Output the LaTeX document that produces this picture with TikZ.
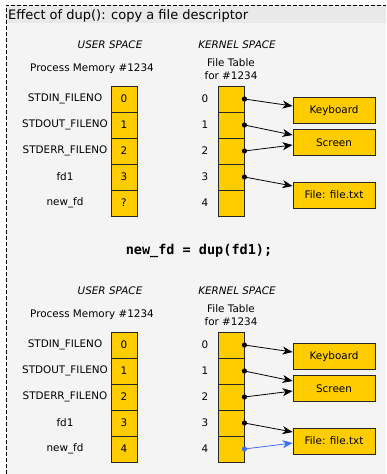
\documentclass[tikz,border=0pt]{standalone}
\usepackage{fontspec}
\setmainfont{DejaVu Sans}
\setmonofont{DejaVu Sans Mono}
\usetikzlibrary{positioning, arrows.meta}
\definecolor{gold}{HTML}{FFCC00}
\definecolor{panel}{HTML}{F4F4F4}
\definecolor{titlebar}{HTML}{E9E9E9}
\definecolor{dupblue}{HTML}{3D6EFF}

\begin{document}
\begin{tikzpicture}[x=1pt, y=-1pt, node distance=26pt]

% Define styles
\tikzstyle{txt} = [font=\fontsize{10.4}{12.5}\selectfont, inner sep=0pt]
\tikzstyle{space} = [txt, font=\fontsize{10.4}{12.5}\selectfont\itshape]
\tikzstyle{fdbox} = [txt, draw=black!85, line width=0.9pt, fill=gold, minimum width=26pt, minimum height=26pt]
\tikzstyle{target} = [txt, draw=black!85, line width=0.9pt, fill=gold, minimum width=82pt, minimum height=26pt]
\tikzstyle{ptr} = [-{Stealth[length=10pt, width=8pt, inset=3pt]}, line width=0.8pt]

% Frame
\useasboundingbox (0,0) rectangle (386,474);
\fill[panel] (6,5) rectangle (386,474);
\fill[titlebar] (6,5) rectangle (386,23);
\draw[dash pattern=on 4pt off 2pt, line width=0.8pt] (6,474) -- (6,5) -- (386,5);
\node[anchor=base west, inner sep=0pt, font=\fontsize{13}{15}\selectfont] (title) at (8,19) {Effect of dup(): copy a file descriptor};

% Before dup
\node[fdbox] (u0) at (124,99) {0};
\node[fdbox, below of=u0] (u1) {1};
\node[fdbox, below of=u1] (u2) {2};
\node[fdbox, below of=u2] (u3) {3};
\node[fdbox, below of=u3] (u4) {?};
\node[txt, left of=u0, node distance=59pt] (n0) {STDIN\_FILENO};
\node[txt, left of=u1, node distance=59pt] (n1) {STDOUT\_FILENO};
\node[txt, left of=u2, node distance=59pt] (n2) {STDERR\_FILENO};
\node[txt, left of=u3, node distance=59pt] (n3) {fd1};
\node[txt, left of=u4, node distance=59pt] (n4) {new\_fd};
\node[space, above of=u0, node distance=54pt, xshift=-14pt] (user) {USER SPACE};
\node[txt, above of=u0, node distance=30pt, xshift=-32pt] (mem) {Process Memory \#1234};

\node[fdbox, right of=u0, node distance=107pt] (k0) {};
\node[fdbox, below of=k0] (k1) {};
\node[fdbox, below of=k1] (k2) {};
\node[fdbox, below of=k2] (k3) {};
\node[fdbox, below of=k3] (k4) {};
\node[txt, left of=k0] (i0) {0};
\node[txt, left of=k1] (i1) {1};
\node[txt, left of=k2] (i2) {2};
\node[txt, left of=k3] (i3) {3};
\node[txt, left of=k4] (i4) {4};
\node[space, above of=k0, node distance=54pt, xshift=6pt] (kern) {KERNEL SPACE};
\node[txt, align=center, above of=k0, node distance=30pt] (ftab) {File Table\\for \#1234};

\node[target, right of=k0, node distance=103pt, yshift=-11.5pt] (kbd) {Keyboard};
\node[target, below of=kbd, node distance=32pt] (scr) {Screen};
\node[target, below of=scr, node distance=52.5pt] (file) {File: file.txt};

\draw[ptr] (k0.east) -- ([yshift=4.5pt]kbd.west);
\draw[ptr] (k1.east) -- ([yshift=7.5pt]scr.west);
\draw[ptr] (k2.east) -- ([yshift=-2.5pt]scr.west);
\draw[ptr] (k3.east) -- ([yshift=9pt]file.west);
\fill (k0.east) circle (2.6pt);
\fill (k1.east) circle (2.6pt);
\fill (k2.east) circle (2.6pt);
\fill (k3.east) circle (2.6pt);

% The call
\node[font=\fontsize{13.5}{16}\selectfont\ttfamily\bfseries, inner sep=0pt] (call) at (199,251) {new\_fd = dup(fd1);};

% After dup
\node[fdbox, below of=u4, node distance=142pt] (v0) {0};
\node[fdbox, below of=v0] (v1) {1};
\node[fdbox, below of=v1] (v2) {2};
\node[fdbox, below of=v2] (v3) {3};
\node[fdbox, below of=v3] (v4) {4};
\node[txt, left of=v0, node distance=59pt] (m0) {STDIN\_FILENO};
\node[txt, left of=v1, node distance=59pt] (m1) {STDOUT\_FILENO};
\node[txt, left of=v2, node distance=59pt] (m2) {STDERR\_FILENO};
\node[txt, left of=v3, node distance=59pt] (m3) {fd1};
\node[txt, left of=v4, node distance=59pt] (m4) {new\_fd};
\node[space, above of=v0, node distance=54pt, xshift=-14pt] (user2) {USER SPACE};
\node[txt, above of=v0, node distance=30pt, xshift=-32pt] (mem2) {Process Memory \#1234};

\node[fdbox, right of=v0, node distance=107pt] (l0) {};
\node[fdbox, below of=l0] (l1) {};
\node[fdbox, below of=l1] (l2) {};
\node[fdbox, below of=l2] (l3) {};
\node[fdbox, below of=l3] (l4) {};
\node[txt, left of=l0] (j0) {0};
\node[txt, left of=l1] (j1) {1};
\node[txt, left of=l2] (j2) {2};
\node[txt, left of=l3] (j3) {3};
\node[txt, left of=l4] (j4) {4};
\node[space, above of=l0, node distance=54pt, xshift=6pt] (kern2) {KERNEL SPACE};
\node[txt, align=center, above of=l0, node distance=30pt] (ftab2) {File Table\\for \#1234};

\node[target, right of=l0, node distance=103pt, yshift=-11.5pt] (kbd2) {Keyboard};
\node[target, below of=kbd2, node distance=32pt] (scr2) {Screen};
\node[target, below of=scr2, node distance=52.5pt] (file2) {File: file.txt};

\draw[ptr] (l0.east) -- ([yshift=4.5pt]kbd2.west);
\draw[ptr] (l1.east) -- ([yshift=7.5pt]scr2.west);
\draw[ptr] (l2.east) -- ([yshift=-2.5pt]scr2.west);
\draw[ptr] (l3.east) -- ([yshift=9pt]file2.west);
\draw[ptr, dupblue] (l4.east) -- ([yshift=-2pt]file2.west);
\fill (l0.east) circle (2.6pt);
\fill (l1.east) circle (2.6pt);
\fill (l2.east) circle (2.6pt);
\fill (l3.east) circle (2.6pt);
\fill[dupblue] (l4.east) circle (2.6pt);

\end{tikzpicture}
\end{document}
